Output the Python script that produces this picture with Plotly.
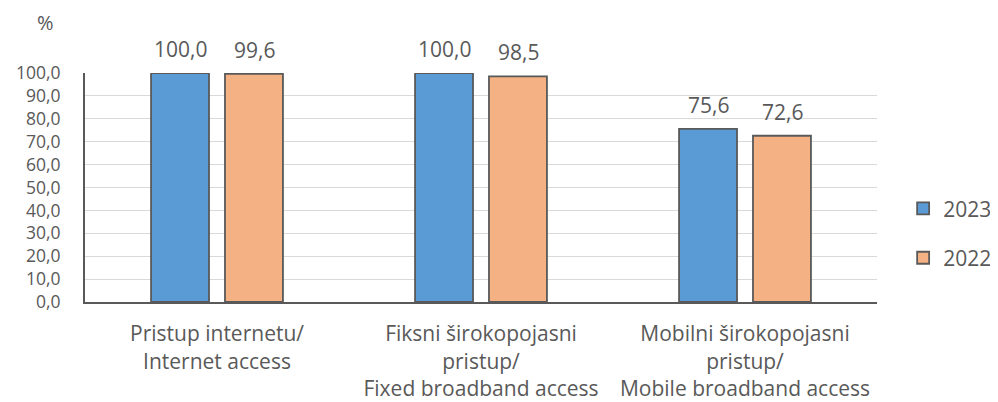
import plotly.graph_objects as go

categories = ["Pristup internetu/<br>Internet access",
              "Fiksni širokopojasni<br>pristup/<br>Fixed broadband access",
              "Mobilni širokopojasni<br>pristup/<br>Mobile broadband access"]
series_names = ["2023", "2022"]
values_2023 = [100.0, 100.0, 75.6]
values_2022 = [99.6, 98.5, 72.6]
y_ticks = [0, 10, 20, 30, 40, 50, 60, 70, 80, 90, 100]

FONT = "Open Sans"
GRAY = "#595959"
colors = ["#5B9BD5", "#F4B183"]

fig = go.Figure()
for name, vals, col in zip(series_names, [values_2023, values_2022], colors):
    fig.add_trace(go.Bar(
        x=categories, y=vals, name=name, legendgroup=name,
        marker=dict(color=col, line=dict(color=GRAY, width=1.8)),
    ))

# value labels above bars
for vals, shift in zip([values_2023, values_2022], [-37, 37]):
    for c, v in zip(categories, vals):
        fig.add_annotation(x=c, y=v, text=f"{v:.1f}".replace(".", ","),
                           xshift=shift, yshift=24, showarrow=False,
                           xanchor="center", yanchor="middle",
                           font=dict(family=FONT, size=21, color=GRAY))

fig.add_annotation(xref="paper", yref="paper", x=-0.0505, y=1.0, yshift=51,
                   xanchor="center", yanchor="middle",
                   text="%", showarrow=False,
                   font=dict(family=FONT, size=20, color=GRAY))

fig.update_layout(
    width=990, height=394,
    margin=dict(l=77, r=121, t=65, b=100, autoexpand=False),
    paper_bgcolor="white", plot_bgcolor="white",
    barmode="group", bargap=0.44, bargroupgap=0.216,
    separators=",.",
    font=dict(family=FONT, size=20, color=GRAY),
    showlegend=True,
    legend=dict(x=1.033, y=0.30, xanchor="left", yanchor="middle",
                tracegroupgap=19, font=dict(family=FONT, size=21, color=GRAY),
                itemwidth=30),
)
fig.update_xaxes(showline=True, linecolor=GRAY, linewidth=2,
                 tickfont=dict(family=FONT, size=21, color=GRAY),
                 ticklabelstandoff=12,
                 ticks="", showgrid=False)
fig.update_yaxes(range=[0, 100], tickvals=y_ticks, tickformat=".1f",
                 showline=True, linecolor=GRAY, linewidth=2,
                 gridcolor="#D9D9D9", gridwidth=1, ticks="",
                 ticklabelstandoff=19,
                 tickfont=dict(family=FONT, size=17.5, color=GRAY), zeroline=False)

fig.write_html("out.html")
